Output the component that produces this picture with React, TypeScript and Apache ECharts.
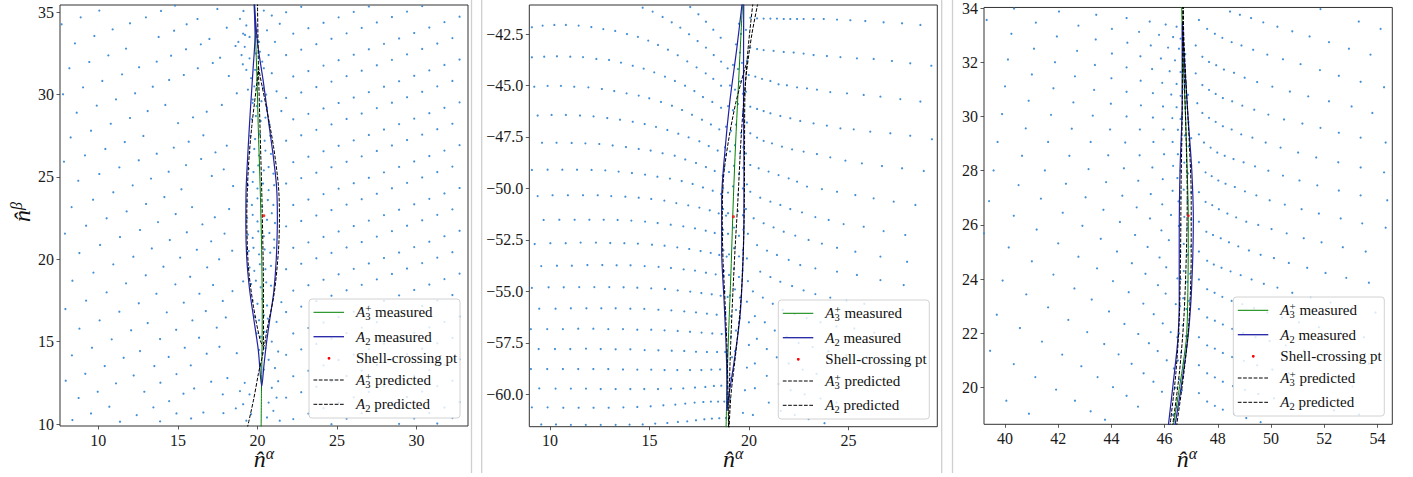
import React, { useEffect, useRef } from "react";
import * as echarts from "echarts";

const SERIF = "Liberation Serif";

// ---------- axis extents & ticks ----------
const P1_X_RANGE = [7.59, 33.23];
const P1_Y_RANGE = [9.88, 35.44];
const P2_X_RANGE = [8.96, 29.47];
const P2_Y_RANGE = [-61.57, -41.09];
const P3_X_RANGE = [39.21, 54.56];
const P3_Y_RANGE = [18.65, 34.02];

const P1_X_TICKS = [10, 15, 20, 25, 30];
const P1_Y_TICKS = [10, 15, 20, 25, 30, 35];
const P2_X_TICKS = [10, 15, 20, 25];
const P2_Y_TICKS = [-60, -57.5, -55, -52.5, -50, -47.5, -45, -42.5];
const P3_X_TICKS = [40, 42, 44, 46, 48, 50, 52, 54];
const P3_Y_TICKS = [20, 22, 24, 26, 28, 30, 32, 34];

// ---------- legend texts ----------
const LEGEND_KEYS = ["a3m", "a2m", "pt", "a3p", "a2p"];
const LEGEND_LABELS = [
  "{it|A}{subz|3}{sup|+}{n| measured}",
  "{it|A}{sub|2}{n| measured}",
  "{n|Shell-crossing pt}",
  "{it|A}{subz|3}{sup|+}{n| predicted}",
  "{it|A}{sub|2}{n| predicted}",
];
const X_TITLE = "{n|n\u0302}{s|\u03b1}";
const Y_TITLE = "{n|n\u0302}{s|\u03b2}";

// ---------- panel 1 particles ----------
const P1_DOTS_LEFT = [
  10.06,35.1, 13.94,35.08, 14.82,35.4, 17.48,35.2, 19.12,35.08, 8.89,34.69, 12.99,34.69, 16.23,34.59, 7.69,34.27, 11.99,34.33,
  10.9,33.96, 15.55,34.27, 18.07,34.06, 9.75,33.56, 14.76,33.88, 13.79,33.5, 16.98,33.38, 19.22,33.62, 8.53,33.11, 11.74,32.79,
  10.63,32.38, 9.43,31.98, 8.18,31.6, 12.56,31.66, 13.67,32.0, 14.57,32.36, 15.51,32.75, 16.44,33.05, 17.65,32.24, 18.62,32.95,
  11.49,31.23, 10.25,30.83, 9.04,30.44, 7.78,30.02, 12.31,30.08, 13.42,30.48, 14.45,30.89, 15.37,31.19, 16.25,31.6, 17.19,31.92,
  18.2,31.13, 19.08,31.84, 11.11,29.71, 9.9,29.33, 8.64,28.9, 13.1,29.0, 14.21,29.37, 15.01,28.27, 15.95,28.62, 16.81,28.96,
  17.76,29.37, 18.7,30.08, 10.78,28.23, 9.54,27.81, 8.26,27.4, 11.99,28.58, 12.83,27.49, 11.66,27.12, 10.44,26.7, 9.16,26.31,
  7.84,25.93, 13.67,26.41, 14.74,26.78, 15.68,27.14, 16.6,27.53, 17.36,26.49, 18.07,26.9, 11.32,25.58, 10.06,25.18, 8.74,24.77,
  12.54,26.01, 13.31,24.9, 14.42,25.32, 15.51,25.72, 16.46,26.09, 17.13,25.06, 17.88,25.46, 18.47,24.45, 10.94,24.07, 9.67,23.62,
  8.32,23.17, 12.16,24.49, 13.0,23.36, 14.15,23.78, 15.22,24.25, 15.89,23.17, 16.54,22.12, 17.32,22.55, 18.22,23.05, 11.78,22.91,
  10.52,22.49, 9.23,22.04, 7.9,21.56, 12.62,21.78, 13.75,22.26, 14.86,22.75, 15.56,21.64, 17.09,21.09, 17.93,21.56, 18.41,20.52,
  11.36,21.35, 10.11,20.87, 8.81,20.38, 12.2,20.16, 13.36,20.66, 14.49,21.17, 15.14,20.1, 16.19,20.58, 16.84,19.51, 17.59,20.0,
  19.1,18.66, 10.94,19.69, 9.69,19.19, 8.37,18.7, 11.74,18.54, 12.98,19.03, 14.09,19.55, 14.84,18.48, 15.77,18.94, 16.35,17.91,
  17.21,18.44, 17.82,17.47, 18.43,18.07, 10.52,17.99, 9.23,17.49, 7.93,16.98, 11.32,16.82, 12.54,17.33, 13.65,17.91, 14.3,16.78,
  15.37,17.37, 15.91,16.29, 16.75,16.86, 17.44,15.85, 18.01,16.47, 10.08,16.29, 8.81,15.79, 12.06,15.69, 10.84,15.14, 9.6,14.63,
  8.34,14.17, 13.1,16.13, 13.88,15.16, 14.89,15.72, 15.43,14.63, 16.33,15.24, 16.81,14.27, 17.61,14.69, 10.4,13.52, 9.18,13.05,
  7.95,12.63, 11.59,14.02, 12.62,14.43, 13.52,13.52, 14.42,14.07, 14.91,13.03, 15.81,13.56, 17.09,12.57, 18.11,12.79, 9.96,11.96,
  8.76,11.58, 11.11,12.47, 12.22,12.95, 12.89,11.96, 13.9,12.51, 14.45,11.39, 15.35,11.84, 16.02,12.16, 17.82,11.8, 9.54,10.64,
  8.37,10.24, 10.69,11.05, 12.41,10.54, 13.46,11.01, 11.36,10.14, 13.88,10.16, 14.91,10.64, 15.83,10.34, 16.6,10.7, 17.86,10.66,
  18.64,10.95,
  18.9,34.6, 19.3,34.2, 19.5,33.5, 19.1,33.7, 19.2,32.9, 18.8,33.2, 19.5,32.2, 19.0,32.4, 19.3,31.5, 19.6,31.0, 19.4,30.3, 19.7,29.7,
  19.2,12.5, 19.5,11.8, 19.1,11.2, 19.6,10.6, 19.3,10.2, 18.9,12.0, 18.7,14.3,
];

const P1_DOTS_LENS = [
  19.95,33.5, 20.1,33.2, 19.9,32.5, 20.15,32.6, 20.3,32.0, 19.85,31.5, 20.1,31.3, 20.4,31.6, 19.8,30.5, 20.05,30.7, 20.35,30.4,
  20.55,30.0, 19.7,29.5, 19.95,29.3, 20.25,29.6, 20.6,29.2, 19.65,28.5, 19.9,28.7, 20.2,28.4, 20.5,28.6, 20.75,28.2, 19.55,27.5,
  19.85,27.3, 20.15,27.6, 20.45,27.2, 20.8,27.5, 19.5,26.5, 19.8,26.7, 20.1,26.3, 20.5,26.6, 20.85,26.4, 19.45,25.5, 19.75,25.3,
  20.05,25.7, 20.4,25.4, 20.7,25.6, 21.0,25.2, 19.4,24.5, 19.7,24.7, 20.0,24.3, 20.35,24.6, 20.7,24.2, 21.05,24.5, 19.35,23.5,
  19.65,23.3, 20.0,23.7, 20.3,23.2, 20.65,23.6, 21.0,23.3, 19.35,22.5, 19.7,22.7, 20.0,22.3, 20.6,22.4, 20.9,22.8, 21.1,22.2,
  19.4,21.5, 19.7,21.3, 20.05,21.7, 20.4,21.4, 20.75,21.6, 21.05,21.2, 19.45,20.5, 19.75,20.7, 20.1,20.3, 20.45,20.6, 20.8,20.4,
  21.05,20.7, 19.5,19.5, 19.8,19.3, 20.15,19.7, 20.5,19.4, 20.85,19.6, 19.6,18.5, 19.9,18.7, 20.2,18.3, 20.55,18.6, 20.85,18.4,
  19.7,17.5, 20.0,17.3, 20.3,17.6, 20.6,17.2, 19.85,16.5, 20.1,16.3, 20.4,16.6, 20.65,16.4, 19.95,15.5, 20.2,15.3, 20.45,15.6,
  20.1,14.5, 20.3,14.3, 20.5,14.6, 20.2,13.5, 20.4,13.3,
  20.7,13.9, 21.1,13.4, 21.3,12.6, 20.9,12.2, 21.2,11.6, 20.7,11.3, 21.0,10.8, 20.6,10.4, 21.4,10.2, 20.9,15.0, 21.3,14.4, 21.2,16.2,
  21.5,17.4, 21.5,29.0, 21.2,30.2, 20.9,31.3, 20.7,32.4, 21.1,33.2, 20.6,33.9, 20.9,34.8, 21.4,34.3, 20.4,35.1,
];

const P1_RIGHT_X_EVEN = [21.8, 22.75, 23.7, 24.65, 25.6, 26.55, 27.5, 28.45, 29.4, 30.35, 31.3, 32.25];
const P1_RIGHT_X_ODD = [22.25, 23.2, 24.15, 25.1, 26.05, 27.0, 27.95, 28.9, 29.85, 30.8, 31.75, 32.7];
const P1_RIGHT_ROWS_EVEN = [
  [35.0, 35.33],
  [32.4, 32.73, 33.06, 33.39, 33.72, 34.05, 34.38, 34.71, 35.04, 35.37],
  [29.8, 30.13, 30.46, 30.79, 31.12, 31.45, 31.78, 32.11, 32.44, 32.77, 33.1, 33.43],
  [27.2, 27.53, 27.86, 28.19, 28.52, 28.85, 29.18, 29.51, 29.84, 30.17, 30.5, 30.83],
  [24.6, 24.93, 25.26, 25.59, 25.92, 26.25, 26.58, 26.91, 27.24, 27.57, 27.9, 28.23],
  [22.0, 22.33, 22.66, 22.99, 23.32, 23.65, 23.98, 24.31, 24.64, 24.97, 25.3, 25.63],
  [19.4, 19.73, 20.06, 20.39, 20.72, 21.05, 21.38, 21.71, 22.04, 22.37, 22.7, 23.03],
  [16.8, 17.13, 17.46, 17.79, 18.12, 18.45, 18.78, 19.11, 19.44, 19.77, 20.1, 20.43],
  [14.2, 14.53, 14.86, 15.19, 15.52, 15.85, 16.18, 16.51, 16.84, 17.17, 17.5, 17.83],
  [11.6, 11.93, 12.26, 12.59, 12.92, 13.25, 13.58, 13.91, 14.24, 14.57, 14.9, 15.23],
  [null, null, null, 9.99, 10.32, 10.65, 10.98, 11.31, 11.64, 11.97, 12.3, 12.63],
  [null, null, null, null, null, null, null, null, null, null, 10.03, 10.36],
];
const P1_RIGHT_ROWS_ODD = [
  [33.7, 34.03, 34.36, 34.69, 35.02, 35.35],
  [31.1, 31.43, 31.76, 32.09, 32.42, 32.75, 33.08, 33.41, 33.74, 34.07, 34.4, 34.73],
  [28.5, 28.83, 29.16, 29.49, 29.82, 30.15, 30.48, 30.81, 31.14, 31.47, 31.8, 32.13],
  [25.9, 26.23, 26.56, 26.89, 27.22, 27.55, 27.88, 28.21, 28.54, 28.87, 29.2, 29.53],
  [23.3, 23.63, 23.96, 24.29, 24.62, 24.95, 25.28, 25.61, 25.94, 26.27, 26.6, 26.93],
  [20.7, 21.03, 21.36, 21.69, 22.02, 22.35, 22.68, 23.01, 23.34, 23.67, 24.0, 24.33],
  [18.1, 18.43, 18.76, 19.09, 19.42, 19.75, 20.08, 20.41, 20.74, 21.07, 21.4, 21.73],
  [15.5, 15.83, 16.16, 16.49, 16.82, 17.15, 17.48, 17.81, 18.14, 18.47, 18.8, 19.13],
  [12.9, 13.23, 13.56, 13.89, 14.22, 14.55, 14.88, 15.21, 15.54, 15.87, 16.2, 16.53],
  [10.3, 10.63, 10.96, 11.29, 11.62, 11.95, 12.28, 12.61, 12.94, 13.27, 13.6, 13.93],
  [null, null, null, null, null, null, null, 10.01, 10.34, 10.67, 11.0, 11.33],
];

// ---------- panel 1 curves ----------
const P1_A3_MEASURED = [[19.82,35.6],[19.88,33.5],[19.97,31],[20.05,28],[20.15,25],[20.22,22.5],[20.27,20],[20.3,17],[20.28,14],[20.25,12],[20.23,9.8]];
const P1_A2_MEASURED = [[19.78,35.6],[19.85,33.7],[19.72,31.5],[19.55,29.0],[19.4,26.5],[19.28,24.0],[19.27,22.0],[19.33,20.0],[19.5,18.2],[19.75,16.5],[20.05,14.5],[20.27,12.3],[20.4,13.5],[20.55,14.8],[20.75,16.2],[21.02,18.0],[21.18,20.0],[21.25,22.5],[21.2,24.4],[21.0,26.2],[20.72,28.2],[20.38,30.7],[20.02,33.0],[19.88,34.5],[19.8,35.6]];
const P1_A2_PREDICTED = [[20.06,31.7],[19.96,30.7],[19.64,28.05],[19.43,25.6],[19.33,22.6],[19.43,19.55],[19.75,17.12],[20.17,15.1],[20.38,14.69],[20.59,15.7],[21.05,17.93],[21.32,20.56],[21.38,22.59],[21.32,24.41],[21.01,26.84],[20.59,29.06],[20.17,31.1],[20.06,31.7]];
const P1_A3_PREDICTED = [[20.0,35.6],[20.06,31.7],[20.17,27.65],[20.3,22.8],[20.38,17.5],[20.38,14.7],[20.06,13.07],[19.75,11.45],[19.37,9.8]];
const P1_SHELL_PT = [[20.4, 22.65]];

// ---------- panel 2 particles ----------
const P2_DOTS_LEFT = [
  17.05,-41.19, 17.46,-41.54, 17.84,-41.9, 18.21,-42.29, 18.58,-42.68,
  14.66,-41.22, 15.16,-41.41, 15.66,-41.67, 16.12,-41.93, 16.55,-42.19, 16.99,-42.51, 17.42,-42.84, 17.84,-43.16, 18.23,-43.52, 18.6,-43.84, 18.93,-44.17,
  9.09,-42.17, 9.63,-42.09, 10.22,-42.06, 10.8,-42.06, 11.44,-42.09, 12.08,-42.16, 12.68,-42.26, 13.28,-42.35, 13.87,-42.5, 14.42,-42.64, 14.94,-42.82, 15.43,-43.03, 15.93,-43.26, 16.42,-43.53, 16.9,-43.83, 17.37,-44.12, 17.83,-44.41, 18.21,-44.68, 18.6,-45.01,
  9.09,-43.63, 9.71,-43.6, 10.35,-43.58, 11.02,-43.6, 11.66,-43.62, 12.33,-43.71, 12.97,-43.76, 13.57,-43.89, 14.16,-44.04, 14.71,-44.18, 15.24,-44.36, 15.78,-44.57, 16.28,-44.78, 16.79,-45.01, 17.26,-45.27, 17.69,-45.56, 18.16,-45.8, 18.6,-46.08,
  9.21,-45.06, 9.88,-45.02, 10.55,-45.02, 11.22,-45.06, 11.93,-45.09, 12.61,-45.17, 13.23,-45.27, 13.85,-45.38, 14.46,-45.49, 14.99,-45.62, 15.58,-45.8, 16.13,-45.98, 16.64,-46.19, 17.14,-46.42, 17.64,-46.66, 18.09,-46.89, 18.51,-47.13,
  9.38,-46.46, 10.08,-46.43, 10.8,-46.43, 11.51,-46.46, 12.19,-46.5, 12.88,-46.58, 13.52,-46.66, 14.16,-46.76, 14.76,-46.87, 15.33,-47.01, 15.9,-47.16, 16.45,-47.34, 16.97,-47.52, 17.51,-47.71, 17.98,-47.94, 18.43,-48.16, 18.85,-48.37,
  9.6,-47.78, 10.33,-47.78, 11.09,-47.79, 11.78,-47.81, 12.48,-47.84, 13.15,-47.91, 13.82,-47.99, 14.46,-48.08, 15.06,-48.16, 15.66,-48.29, 16.27,-48.41, 16.8,-48.59, 17.34,-48.76, 17.84,-48.96, 18.28,-49.15, 18.68,-49.38,
  9.09,-49.1, 9.88,-49.09, 10.62,-49.09, 11.36,-49.09, 12.09,-49.1, 12.78,-49.12, 13.45,-49.18, 14.12,-49.25, 14.78,-49.33, 15.4,-49.43, 16.03,-49.52, 16.62,-49.64, 17.17,-49.78, 17.69,-49.95, 18.18,-50.11, 18.6,-50.27,
  9.38,-50.37, 10.13,-50.33, 10.9,-50.33, 11.66,-50.33, 12.4,-50.33, 13.08,-50.37, 13.79,-50.4, 14.46,-50.45, 15.09,-50.51, 15.75,-50.59, 16.35,-50.71, 16.95,-50.82, 17.51,-50.93, 18.03,-51.06, 18.48,-51.21, 18.85,-51.32,
  9.68,-51.53, 10.47,-51.52, 11.24,-51.52, 11.98,-51.52, 12.7,-51.52, 13.4,-51.53, 14.09,-51.56, 14.78,-51.61, 15.41,-51.68, 16.07,-51.76, 16.7,-51.84, 17.29,-51.94, 17.83,-52.05, 18.28,-52.16, 18.68,-52.26,
  9.23,-52.7, 10.02,-52.66, 10.79,-52.66, 11.54,-52.63, 12.31,-52.63, 13.03,-52.65, 13.74,-52.66, 14.42,-52.68, 15.13,-52.73, 15.76,-52.78, 16.4,-52.86, 17.0,-52.94, 17.57,-53.04, 18.08,-53.13, 18.51,-53.23, 18.88,-53.31,
  9.56,-53.77, 10.35,-53.75, 11.1,-53.75, 11.88,-53.72, 12.63,-53.72, 13.35,-53.73, 14.05,-53.73, 14.76,-53.77, 15.46,-53.81, 16.08,-53.86, 16.72,-53.93, 17.29,-53.99, 17.84,-54.09, 18.33,-54.17, 18.73,-54.25,
  9.09,-54.83, 9.93,-54.8, 10.69,-54.8, 11.47,-54.79, 12.23,-54.79, 12.98,-54.79, 13.7,-54.8, 14.39,-54.82, 15.09,-54.85, 15.78,-54.88, 16.42,-54.95, 17.05,-55.01, 17.61,-55.08, 18.13,-55.14, 18.58,-55.21, 18.93,-55.27,
  9.46,-55.84, 10.28,-55.84, 11.05,-55.82, 11.83,-55.82, 12.58,-55.82, 13.3,-55.82, 14.04,-55.84, 14.74,-55.85, 15.45,-55.89, 16.1,-55.92, 16.75,-55.97, 17.34,-56.02, 17.89,-56.08, 18.38,-56.13, 18.8,-56.18,
  9.04,-56.83, 9.86,-56.83, 10.65,-56.83, 11.42,-56.81, 12.18,-56.81, 12.93,-56.83, 13.67,-56.83, 14.39,-56.86, 15.09,-56.86, 15.76,-56.89, 16.42,-56.92, 17.04,-56.96, 17.62,-57.0, 18.16,-57.04, 18.63,-57.07,
  9.43,-57.8, 10.25,-57.8, 11.02,-57.8, 11.81,-57.78, 12.55,-57.8, 13.3,-57.81, 14.04,-57.81, 14.76,-57.85, 15.45,-57.86, 16.12,-57.88, 16.75,-57.89, 17.34,-57.93, 17.89,-57.94, 18.4,-57.94, 18.81,-57.94,
  9.04,-58.77, 9.86,-58.77, 10.65,-58.77, 11.42,-58.77, 12.18,-58.77, 12.93,-58.77, 13.67,-58.79, 14.39,-58.8, 15.09,-58.8, 15.76,-58.82, 16.4,-58.82, 17.04,-58.82, 17.61,-58.82, 18.11,-58.8, 18.55,-58.79, 18.9,-58.77,
  9.46,-59.71, 10.28,-59.72, 11.05,-59.72, 11.81,-59.72, 12.55,-59.74, 13.3,-59.74, 14.04,-59.74, 14.74,-59.74, 15.43,-59.74, 16.08,-59.72, 16.7,-59.71, 17.29,-59.67, 17.81,-59.64, 18.24,-59.59, 18.61,-59.58, 18.92,-59.58,
  9.09,-60.63, 9.88,-60.63, 10.67,-60.65, 11.44,-60.65, 12.19,-60.65, 12.95,-60.65, 13.69,-60.63, 14.39,-60.61, 15.06,-60.58, 15.7,-60.53, 16.3,-60.5, 16.8,-60.45, 17.27,-60.4, 17.71,-60.37, 18.09,-60.35, 18.45,-60.35, 18.76,-60.35,
  9.56,-61.46, 10.3,-61.46, 11.05,-61.48, 11.8,-61.48, 12.55,-61.48, 13.3,-61.48, 14.0,-61.47, 14.66,-61.46, 15.29,-61.42, 15.9,-61.39, 16.43,-61.34, 16.9,-61.31, 17.34,-61.26, 17.76,-61.21, 18.14,-61.18, 18.51,-61.16, 18.85,-61.15,
];

const P2_DOTS_RIGHT = [
  20.07,-41.71, 20.41,-41.74, 20.74,-41.75, 21.08,-41.75, 21.41,-41.75, 21.75,-41.77, 22.08,-41.77, 22.42,-41.77, 22.75,-41.77, 23.25,-41.77, 23.76,-41.77, 24.43,-41.8, 25.1,-41.83, 25.85,-41.87, 26.77,-41.93, 27.7,-41.98, 28.62,-42.06,
  20.07,-43.16, 20.41,-43.23, 20.74,-43.28, 21.24,-43.32, 21.75,-43.37, 22.25,-43.4, 22.75,-43.45, 23.25,-43.52, 23.92,-43.57, 24.6,-43.62, 25.43,-43.68, 26.27,-43.71, 27.19,-43.81, 28.11,-43.92, 29.17,-44.04,
  19.99,-44.49, 20.32,-44.57, 20.66,-44.68, 21.08,-44.78, 21.49,-44.94, 21.91,-44.99, 22.42,-45.09, 22.92,-45.14, 23.42,-45.2, 24.09,-45.32, 24.93,-45.38, 25.77,-45.46, 26.61,-45.54, 27.61,-45.66, 28.62,-45.78,
  20.07,-46.03, 20.41,-46.14, 20.74,-46.24, 21.08,-46.35, 21.58,-46.48, 22.08,-46.59, 22.58,-46.72, 23.25,-46.84, 23.92,-46.95, 24.6,-47.08, 25.27,-47.13, 26.1,-47.24, 27.11,-47.32, 28.11,-47.44, 29.2,-47.61,
  20.07,-47.32, 20.41,-47.53, 20.74,-47.69, 21.16,-47.81, 21.66,-47.97, 22.17,-48.1, 22.75,-48.21, 23.42,-48.33, 24.09,-48.49, 24.85,-48.65, 25.68,-48.78, 26.69,-48.91, 27.7,-49.02, 28.79,-49.15,
  20.07,-48.86, 20.49,-49.02, 20.99,-49.18, 21.49,-49.35, 22.0,-49.51, 22.42,-49.67, 22.92,-49.91, 23.67,-50.03, 24.43,-50.16, 25.35,-50.32, 26.27,-50.48, 27.28,-50.64, 28.37,-50.8,
  20.07,-50.16, 20.57,-50.45, 21.08,-50.64, 21.58,-50.8, 22.08,-51.0, 22.67,-51.16, 23.34,-51.39, 24.01,-51.53, 24.76,-51.73, 25.77,-51.86, 26.77,-52.07, 27.86,-52.26,
  20.24,-51.45, 20.74,-51.69, 21.24,-51.89, 21.75,-52.1, 22.33,-52.29, 23.0,-52.5, 23.67,-52.68, 24.43,-52.88, 25.35,-53.07, 26.61,-53.31, 27.95,-53.56,
  20.41,-52.75, 20.91,-53.02, 21.41,-53.23, 22.0,-53.47, 22.58,-53.72, 23.34,-53.88, 24.43,-54.04, 25.43,-54.2, 26.61,-54.45, 27.78,-54.69,
  20.57,-54.04, 21.08,-54.3, 21.58,-54.53, 22.17,-54.74, 22.75,-54.95, 23.34,-55.13, 24.09,-55.3, 24.9,-55.45, 25.8,-55.6,
  20.7,-55.3, 21.2,-55.6, 21.7,-55.9, 22.3,-56.1, 22.9,-56.3, 23.6,-56.5, 24.4,-56.7, 25.3,-56.8, 26.3,-57.0, 27.3,-57.1,
  20.8,-56.5, 21.3,-56.9, 21.9,-57.2, 22.5,-57.5, 23.2,-57.7, 24.0,-57.9, 24.9,-58.1, 25.9,-58.2, 27.0,-58.3,
  20.9,-57.8, 21.4,-58.2, 22.0,-58.5, 22.7,-58.8, 23.4,-59.0, 24.2,-59.2, 25.1,-59.3, 26.1,-59.4,
  20.9,-59.1, 21.5,-59.5, 22.1,-59.8, 22.8,-60.0, 23.6,-60.2, 24.4,-60.4, 25.3,-60.5,
  21.0,-60.4, 21.6,-60.8, 22.3,-61.0, 23.0,-61.2, 23.8,-61.4,
  19.9,-55.5, 20.2,-55.0, 20.0,-56.5, 20.3,-56.2, 20.0,-57.6, 20.4,-57.3, 19.9,-58.7, 20.3,-58.5, 19.8,-59.8, 20.3,-59.7, 19.7,-60.9, 20.2,-61.0,
  19.85,-42.3, 19.9,-43.8, 19.85,-45.3, 19.9,-46.8, 19.85,-48.3, 19.9,-49.8, 19.85,-51.0, 19.95,-52.2, 19.9,-53.4, 19.95,-54.5,
];

const P2_DOTS_LENS = [
  19.5,-42, 19.6,-42.5, 19.35,-43, 19.55,-43.4, 19.2,-44, 19.45,-44.2, 19.65,-43.9, 19.05,-45, 19.3,-45.2, 19.55,-44.8, 19.7,-45.4,
  18.95,-46, 19.2,-46.2, 19.45,-45.9, 19.7,-46.3, 18.85,-47, 19.1,-47.2, 19.35,-46.9, 19.6,-47.3, 18.8,-48, 19.05,-48.2, 19.3,-47.9,
  19.55,-48.3, 19.72,-48, 18.75,-49, 19.0,-49.2, 19.25,-48.9, 19.5,-49.3, 19.7,-49, 18.7,-50, 18.95,-50.2, 19.2,-49.9, 19.45,-50.3,
  19.7,-50, 18.7,-51, 18.95,-51.2, 19.45,-51.1, 19.7,-51.3, 18.7,-52, 18.95,-52.2, 19.25,-51.9, 19.5,-52.3, 19.72,-52, 18.72,-53,
  19.0,-53.2, 19.25,-52.9, 19.5,-53.3, 19.7,-53, 18.75,-54, 19.0,-54.2, 19.25,-53.9, 19.5,-54.3, 19.68,-54, 18.78,-55, 19.05,-55.2,
  19.3,-54.9, 19.55,-55.3, 18.82,-56, 19.1,-56.2, 19.35,-55.9, 19.55,-56.3, 18.86,-57, 19.1,-57.2, 19.35,-56.9, 18.9,-58, 19.15,-58.2,
  19.3,-57.9, 18.9,-59, 19.1,-59.2, 18.9,-60, 19.05,-60.2,
];

// ---------- panel 2 curves ----------
const P2_A3_MEASURED = [[19.68,-41.0],[19.55,-43.5],[19.42,-46.0],[19.3,-48.5],[19.2,-51.0],[19.1,-54.0],[18.98,-57.0],[18.9,-59.5],[18.85,-61.7]];
const P2_A2_MEASURED = [[19.66,-41.0],[19.38,-43.28],[19.05,-45.7],[18.8,-48.13],[18.63,-50.56],[18.63,-53.0],[18.75,-55.42],[18.86,-57.85],[18.9,-60.0],[18.9,-60.8],[19.0,-60.0],[19.22,-58.65],[19.55,-56.23],[19.69,-53.8],[19.75,-51.37],[19.75,-48.94],[19.73,-46.0],[19.73,-43.5],[19.74,-41.0]];
const P2_A2_PREDICTED_L = [[19.85,-44.0],[19.35,-45.8],[18.97,-47.7],[18.72,-49.5],[18.66,-51.5],[18.7,-53.5],[18.8,-55.5],[18.9,-57.8],[18.95,-60],[18.98,-61.7]];
const P2_A2_PREDICTED_R = [[20.2,-41.0],[19.95,-43.3],[19.8,-45.5],[19.78,-48],[19.77,-50.6],[19.72,-53],[19.6,-55.4],[19.35,-57.9],[19.1,-60],[19.0,-61.7]];
const P2_A3_PREDICTED = [[20.45,-41.0],[20.15,-42.5],[19.9,-44.2],[19.72,-46.0],[19.58,-48],[19.45,-50.5],[19.3,-53],[19.15,-56],[19.05,-58.5],[18.98,-61.7]];
const P2_SHELL_PT = [[19.22, -51.37]];

// ---------- panel 3 particles ----------
const P3_DOTS_LEFT = [
  40.34,33.98, 42.03,33.87, 43.43,33.75, 44.57,33.63, 45.44,33.5, 46.04,33.39, 46.45,33.31,
  39.31,33.56, 41.16,33.46, 42.76,33.35, 44.02,33.23, 45.04,33.12, 45.79,33.01, 46.32,32.93, 46.6,32.87,
  40.24,33.05, 41.95,32.95, 43.41,32.84, 44.6,32.72, 45.48,32.62, 46.13,32.54, 46.54,32.5,
  41.09,32.5, 42.71,32.42, 44.02,32.32, 45.09,32.22, 45.86,32.14, 46.39,32.07,
  40.11,32.1, 41.88,32.0, 43.38,31.9, 44.57,31.81, 45.53,31.75, 46.19,31.67, 46.6,31.64,
  41.01,31.55, 42.63,31.48, 44.0,31.41, 45.1,31.32, 45.91,31.24, 46.45,31.2,
  40.0,31.11, 41.82,31.04, 43.35,30.98, 44.57,30.91, 45.56,30.86, 46.25,30.81, 46.6,30.76,
  40.89,30.58, 42.57,30.52, 43.98,30.47, 45.11,30.41, 45.94,30.37, 46.45,30.34,
  39.89,30.09, 41.73,30.06, 43.3,30.03, 44.57,30.0, 45.56,29.96, 46.29,29.94, 46.6,29.91,
  40.78,29.56, 42.51,29.55, 43.95,29.52, 45.07,29.52, 45.96,29.52, 46.5,29.51,
  39.72,29.06, 41.62,29.06, 43.22,29.06, 44.52,29.04, 45.58,29.06, 46.3,29.06,
  40.64,28.55, 42.42,28.55, 43.88,28.57, 45.06,28.57, 45.98,28.61, 46.5,28.61,
  39.57,28.01, 41.5,28.01, 43.14,28.06, 44.47,28.09, 45.54,28.12, 46.32,28.18,
  40.51,27.47, 42.29,27.52, 43.8,27.58, 45.01,27.63, 45.93,27.69, 46.48,27.73,
  39.4,26.88, 41.35,26.97, 43.03,27.02, 44.41,27.08, 45.48,27.14, 46.3,27.26,
  40.33,26.34, 42.17,26.45, 43.7,26.56, 44.95,26.65, 45.91,26.76, 46.52,26.87,
  39.21,25.69, 41.19,25.83, 42.91,25.97, 44.32,26.11, 45.45,26.24, 46.24,26.37,
  40.14,25.17, 42.0,25.32, 43.6,25.49, 44.89,25.63, 45.88,25.8, 46.54,25.96,
  41.01,24.66, 42.76,24.83, 44.21,25.02, 45.36,25.19, 46.16,25.44,
  39.91,23.95, 41.82,24.17, 43.46,24.4, 44.77,24.59, 45.81,24.8, 46.58,25.02,
  40.8,23.44, 42.61,23.66, 44.06,23.93, 45.28,24.2, 46.06,24.44,
  39.69,22.69, 41.62,22.96, 43.26,23.25, 44.65,23.52, 45.75,23.78, 46.48,24.03,
  40.56,22.2, 42.38,22.5, 43.91,22.81, 45.2,23.1, 46.04,23.47,
  39.44,21.36, 41.39,21.7, 43.09,22.05, 44.49,22.35, 45.59,22.71, 46.42,23.08,
  40.33,20.87, 42.15,21.22, 43.73,21.61, 45.01,21.98, 45.93,22.37,
  41.14,20.39, 42.87,20.79, 44.27,21.23, 45.41,21.64, 46.23,22.05,
  40.05,19.52, 41.92,19.93, 43.48,20.39, 44.76,20.88, 45.74,21.35, 46.48,21.86,
  40.9,19.04, 42.63,19.52, 44.06,20.02, 45.21,20.53, 46.08,21.01,
  43.22,19.13, 44.57,19.7, 45.58,20.22, 46.35,20.71,
  43.76,18.82, 45.0,19.3, 45.9,19.85,
];

const P3_DOTS_RIGHT = [
  48.46,33.87, 48.83,33.75, 49.25,33.63, 49.71,33.47, 50.24,33.31, 50.8,33.14, 51.45,32.95, 52.18,32.74, 52.93,32.5, 53.74,32.28,
  47.29,33.56, 47.6,33.23, 47.89,33.05, 48.17,32.9, 48.52,32.74, 48.89,32.62, 49.33,32.46, 49.86,32.28, 50.45,32.11, 51.11,31.93, 51.84,31.71, 52.55,31.5, 53.37,31.28, 54.25,31.08,
  47.17,32.62, 47.42,32.2, 47.67,32.01, 47.94,31.89, 48.23,31.73, 48.61,31.61, 49.01,31.43, 49.48,31.27, 50.05,31.1, 50.71,30.92, 51.4,30.74, 52.18,30.56, 53.03,30.37, 53.81,30.13,
  47.17,31.59, 47.42,31.16, 47.67,30.98, 47.92,30.83, 48.19,30.68, 48.54,30.56, 48.92,30.4, 49.37,30.25, 49.9,30.07, 50.49,29.89, 51.18,29.74, 51.86,29.58, 52.55,29.4, 53.37,29.22, 54.31,29.04,
  47.23,30.49, 47.42,30.13, 47.67,29.95, 47.92,29.8, 48.19,29.64, 48.52,29.52, 48.88,29.34, 49.3,29.22, 49.8,29.04, 50.36,28.85, 51.02,28.67, 51.7,28.49, 52.53,28.31, 53.37,28.12, 54.25,27.94,
  47.29,29.34, 47.48,29.04, 47.73,28.85, 47.98,28.67, 48.26,28.55, 48.59,28.43, 48.97,28.31, 49.4,28.16, 49.9,28.0, 50.45,27.82, 51.07,27.64, 51.74,27.46, 52.55,27.27, 53.37,27.09, 54.37,26.91,
  47.29,28.31, 47.54,27.94, 47.77,27.8, 48.02,27.64, 48.29,27.52, 48.64,27.4, 49.02,27.24, 49.45,27.09, 49.95,26.91, 50.52,26.75, 51.15,26.58, 51.8,26.42, 52.62,26.24, 53.43,26.06, 54.31,25.9,
  47.29,27.21, 47.54,26.85, 47.79,26.73, 48.04,26.58, 48.36,26.42, 48.69,26.28, 49.07,26.12, 49.52,26.0, 50.02,25.85, 50.59,25.69, 51.23,25.51, 51.9,25.36, 52.7,25.18, 53.56,25.02,
  47.29,26.12, 47.57,25.75, 47.82,25.63, 48.11,25.51, 48.42,25.36, 48.77,25.21, 49.17,25.06, 49.61,24.9, 50.11,24.78, 50.67,24.6, 51.36,24.42, 52.05,24.23, 52.83,24.05, 53.68,23.87,
  47.29,25.02, 47.6,24.68, 47.85,24.54, 48.14,24.42, 48.48,24.29, 48.86,24.15, 49.27,23.99, 49.73,23.83, 50.24,23.69, 50.8,23.5, 51.49,23.32, 52.24,23.14, 53.06,22.96, 53.93,22.77,
  47.29,23.99, 47.6,23.63, 47.88,23.5, 48.17,23.35, 48.52,23.2, 48.92,23.08, 49.36,22.93, 49.86,22.77, 50.42,22.59, 51.05,22.41, 51.8,22.23, 52.62,22.05, 53.49,21.86,
  47.29,22.9, 47.6,22.59, 47.89,22.47, 48.19,22.33, 48.54,22.17, 48.95,22.01, 49.42,21.86, 49.95,21.72, 50.55,21.56, 51.24,21.38, 51.99,21.19, 52.8,21.04, 53.68,20.89,
  47.29,21.86, 47.6,21.56, 47.89,21.44, 48.19,21.28, 48.54,21.13, 48.98,20.99, 49.48,20.83, 50.05,20.67, 50.67,20.53, 51.4,20.37, 52.18,20.19, 53.06,20.04,
  47.29,20.83, 47.6,20.53, 47.89,20.38, 48.19,20.22, 48.57,20.06, 49.02,19.92, 49.52,19.77, 50.11,19.61, 50.77,19.46, 51.53,19.31, 52.37,19.16, 53.31,19.01,
  47.29,19.8, 47.6,19.49, 47.89,19.33, 48.19,19.19, 48.61,19.04, 49.07,18.88, 49.61,18.73,
  51.86,33.96, 53.3,33.5, 54.12,33.23,
];

const P3_DOTS_LENS = [
  46.7,33.0, 46.7,32.0, 46.78,32.3, 46.68,31.0, 46.8,31.2, 46.88,30.8, 46.65,30.0, 46.78,30.3, 46.9,29.8, 46.63,29.0, 46.76,29.3,
  46.9,28.9, 47.0,29.2, 46.6,28.0, 46.74,28.3, 46.88,27.9, 47.0,28.2, 46.6,27.0, 46.72,27.3, 46.86,26.9, 47.0,27.2, 46.6,26.0,
  46.74,26.3, 46.86,25.9, 47.0,26.2, 46.6,25.0, 46.72,25.3, 46.86,24.9, 46.98,25.2, 46.6,24.0, 46.72,24.3, 46.85,23.9, 46.96,24.2,
  46.58,23.0, 46.7,23.3, 46.82,22.9, 46.92,23.2, 46.55,22.0, 46.68,22.3, 46.8,21.9, 46.5,21.0, 46.62,21.3, 46.72,20.9, 46.42,20.0,
  46.55,20.3, 46.65,19.9, 46.3,19.0, 46.45,19.3,
];

// ---------- panel 3 curves ----------
const P3_A3_MEASURED = [[46.64,34.1],[46.7,32.0],[46.77,30.47],[46.85,28.0],[46.89,26.2],[46.88,24.0],[46.83,21.96],[46.7,20.9],[46.58,20.14],[46.33,18.6]];
const P3_A2_MEASURED = [[46.14,18.6],[46.39,20.74],[46.5,21.8],[46.55,23.18],[46.55,25.61],[46.58,28.04],[46.66,30.47],[46.66,32.5],[46.67,33.5],[46.73,32.29],[46.89,29.86],[47.02,28.04],[47.08,26.2],[47.02,23.78],[46.89,21.96],[46.64,20.14],[46.39,18.6]];
const P3_A2_PREDICTED_L = [[46.7,34.1],[46.68,32.5],[46.66,30],[46.62,27.5],[46.6,25],[46.55,22.5],[46.42,20.5],[46.2,18.6]];
const P3_A2_PREDICTED_R = [[46.7,34.1],[46.72,33],[46.82,31],[46.93,29],[47.0,27],[47.0,25],[46.92,22.5],[46.72,20.5],[46.45,18.6]];
const P3_A3_PREDICTED = [[46.68,34.1],[46.74,31.5],[46.8,29.5],[46.85,27],[46.82,25],[46.72,22.5],[46.55,20.5],[46.3,18.6]];
const P3_SHELL_PT = [[46.89, 26.34]];

// ---------- helpers ----------
function pairs(flat: number[]): number[][] {
  const out: number[][] = [];
  for (let i = 0; i + 1 < flat.length; i += 2) out.push([flat[i], flat[i + 1]]);
  return out;
}
function rowsToPoints(xs: number[], rows: (number | null)[][]): number[][] {
  const out: number[][] = [];
  rows.forEach((r) => r.forEach((y, i) => { if (y != null && i < xs.length) out.push([xs[i], y]); }));
  return out;
}

const DOT_COLOR = "#3b8ad2";
const GREEN = "#008000";
const BLUE = "#2121a6";
const DASH = [3.7, 1.6];

const PANELS = [
  {
    grid: { left: 60, top: 5, width: 408, height: 421 },
    xr: P1_X_RANGE, yr: P1_Y_RANGE, xt: P1_X_TICKS, yt: P1_Y_TICKS,
    dots: [...pairs(P1_DOTS_LEFT), ...pairs(P1_DOTS_LENS), ...rowsToPoints(P1_RIGHT_X_EVEN, P1_RIGHT_ROWS_EVEN), ...rowsToPoints(P1_RIGHT_X_ODD, P1_RIGHT_ROWS_ODD)],
    green: [P1_A3_MEASURED], blue: [P1_A2_MEASURED], dashed: [P1_A2_PREDICTED, P1_A3_PREDICTED], pt: P1_SHELL_PT,
    legend: [309, 299], xTitle: [264, 459],
  },
  {
    grid: { left: 529.3, top: 5, width: 408, height: 421.7 },
    xr: P2_X_RANGE, yr: P2_Y_RANGE, xt: P2_X_TICKS, yt: P2_Y_TICKS,
    dots: [...pairs(P2_DOTS_LEFT), ...pairs(P2_DOTS_RIGHT), ...pairs(P2_DOTS_LENS)],
    green: [P2_A3_MEASURED], blue: [P2_A2_MEASURED], dashed: [P2_A2_PREDICTED_L, P2_A2_PREDICTED_R, P2_A3_PREDICTED], pt: P2_SHELL_PT,
    legend: [778.3, 300], xTitle: [733.3, 459],
  },
  {
    grid: { left: 984, top: 3, width: 408.3, height: 421.3 },
    xr: P3_X_RANGE, yr: P3_Y_RANGE, xt: P3_X_TICKS, yt: P3_Y_TICKS,
    dots: [...pairs(P3_DOTS_LEFT), ...pairs(P3_DOTS_RIGHT), ...pairs(P3_DOTS_LENS)],
    green: [P3_A3_MEASURED], blue: [P3_A2_MEASURED], dashed: [P3_A2_PREDICTED_L, P3_A2_PREDICTED_R, P3_A3_PREDICTED], pt: P3_SHELL_PT,
    legend: [1233.3, 297], xTitle: [1187, 459],
  },
];

function fmtTick(v: number): string {
  if (v < 0) return "\u2212" + Math.abs(v).toFixed(1);
  if (!Number.isInteger(v)) return v.toFixed(1);
  return String(v);
}

const RICH_LEGEND: any = {
  it: { fontFamily: SERIF, fontSize: 15, fontStyle: "italic", fill: "#111", lineHeight: 20 },
  n: { fontFamily: SERIF, fontSize: 15, fill: "#111", lineHeight: 20 },
  sub: { fontFamily: SERIF, fontSize: 10.5, fill: "#111", verticalAlign: "bottom", lineHeight: 9 },
  subz: { fontFamily: SERIF, fontSize: 10.5, fill: "#111", verticalAlign: "bottom", lineHeight: 9, width: 0, align: "left" },
  sup: { fontFamily: SERIF, fontSize: 11, fill: "#111", verticalAlign: "top", lineHeight: 7 },
};
const RICH_TITLE: any = {
  n: { fontFamily: SERIF, fontSize: 24, fontStyle: "italic", fill: "#111", lineHeight: 28 },
  s: { fontFamily: SERIF, fontSize: 16, fontStyle: "italic", fill: "#111", verticalAlign: "top", lineHeight: 12 },
};

function legendElements(x0: number, y0: number): any[] {
  const els: any[] = [];
  els.push({
    type: "rect", z: 100,
    shape: { x: x0, y: y0, width: 151, height: 119, r: 3 },
    style: { fill: "rgba(255,255,255,0.8)", stroke: "#d2d2d2", lineWidth: 1 },
  });
  const rowOffsets = [13.3, 37.7, 59.3, 81, 105.3];
  LEGEND_KEYS.forEach((k, i) => {
    const cy = y0 + rowOffsets[i];
    if (k === "pt") {
      els.push({ type: "circle", z: 101, shape: { cx: x0 + 20, cy, r: 1.4 }, style: { fill: "#ff0000" } });
    } else {
      const stroke = k === "a3m" ? GREEN : k === "a2m" ? BLUE : "#000";
      const dashed = k === "a3p" || k === "a2p";
      els.push({
        type: "line", z: 101,
        shape: { x1: x0 + 4.5, y1: cy, x2: x0 + 35, y2: cy },
        style: { stroke, lineWidth: k === "a2m" ? 1.3 : 1, lineDash: dashed ? DASH : null },
      });
    }
    els.push({
      type: "text", z: 101, x: x0 + 47, y: cy,
      style: {
        text: LEGEND_LABELS[i], rich: RICH_LEGEND, fill: "#111", fontFamily: SERIF, fontSize: 15,
        align: "left", verticalAlign: "middle",
      },
    });
  });
  return els;
}

function buildOption(): any {
  const grid: any[] = [];
  const xAxis: any[] = [];
  const yAxis: any[] = [];
  const series: any[] = [];
  let graphic: any[] = [];

  PANELS.forEach((p, i) => {
    grid.push({ ...p.grid, show: true, borderColor: "#333", borderWidth: 1, backgroundColor: "transparent", containLabel: false });
    const axisCommon = {
      type: "value", gridIndex: i,
      axisLine: { show: false }, splitLine: { show: false },
    };
    xAxis.push({
      ...axisCommon, min: p.xr[0], max: p.xr[1],
      axisTick: { show: true, customValues: p.xt, length: 3.5, lineStyle: { color: "#333", width: 0.8 } },
      axisLabel: { customValues: p.xt, fontFamily: SERIF, fontSize: 16, color: "#1a1a1a", margin: 6, formatter: fmtTick },
    });
    yAxis.push({
      ...axisCommon, min: p.yr[0], max: p.yr[1],
      axisTick: { show: true, customValues: p.yt, length: 3.5, lineStyle: { color: "#333", width: 0.8 } },
      axisLabel: { customValues: p.yt, fontFamily: SERIF, fontSize: 16, color: "#1a1a1a", margin: 6, formatter: fmtTick },
    });

    series.push({
      type: "scatter", xAxisIndex: i, yAxisIndex: i, data: p.dots, symbol: "circle", symbolSize: 2.2,
      itemStyle: { color: DOT_COLOR, opacity: 0.95 }, silent: true, clip: true, z: 1,
    });
    const lineBase = { type: "line", xAxisIndex: i, yAxisIndex: i, symbol: "none", showSymbol: false, smooth: 0.3, clip: true, silent: true };
    p.green.forEach((d) => series.push({ ...lineBase, data: d, z: 3, lineStyle: { color: GREEN, width: 1 } }));
    p.blue.forEach((d) => series.push({ ...lineBase, data: d, z: 3, lineStyle: { color: BLUE, width: 1.2 } }));
    p.dashed.forEach((d) => series.push({ ...lineBase, data: d, z: 4, lineStyle: { color: "#000", width: 1, type: DASH } }));
    series.push({
      type: "scatter", xAxisIndex: i, yAxisIndex: i, data: p.pt, symbol: "circle", symbolSize: 3,
      itemStyle: { color: "#ff0000" }, silent: true, z: 5,
    });

    graphic = graphic.concat(legendElements(p.legend[0], p.legend[1]));
    graphic.push({
      type: "text", z: 101, x: p.xTitle[0], y: p.xTitle[1],
      style: { text: X_TITLE, rich: RICH_TITLE, align: "center", verticalAlign: "middle" },
    });
  });

  graphic.push({
    type: "text", z: 101, x: 22, y: 212, rotation: Math.PI / 2,
    style: { text: Y_TITLE, rich: RICH_TITLE, align: "center", verticalAlign: "middle" },
  });
  [471.5, 481.7, 941.7, 952.5].forEach((x) => {
    graphic.push({ type: "line", z: 50, shape: { x1: x, y1: 0, x2: x, y2: 473 }, style: { stroke: "#cfcfcf", lineWidth: 1.3 } });
  });

  return {
    animation: false,
    backgroundColor: "#ffffff",
    textStyle: { fontFamily: SERIF },
    grid, xAxis, yAxis, series, graphic,
  };
}

export default function App() {
  const ref = useRef<HTMLDivElement>(null);
  useEffect(() => {
    if (!ref.current) return;
    const chart = echarts.init(ref.current, null, { renderer: "svg" });
    chart.setOption(buildOption());
    return () => chart.dispose();
  }, []);
  return (
    <div
      ref={ref}
      style={{ position: "absolute", left: 0, top: 0, width: 1413, height: 477, background: "#fff" }}
    />
  );
}
